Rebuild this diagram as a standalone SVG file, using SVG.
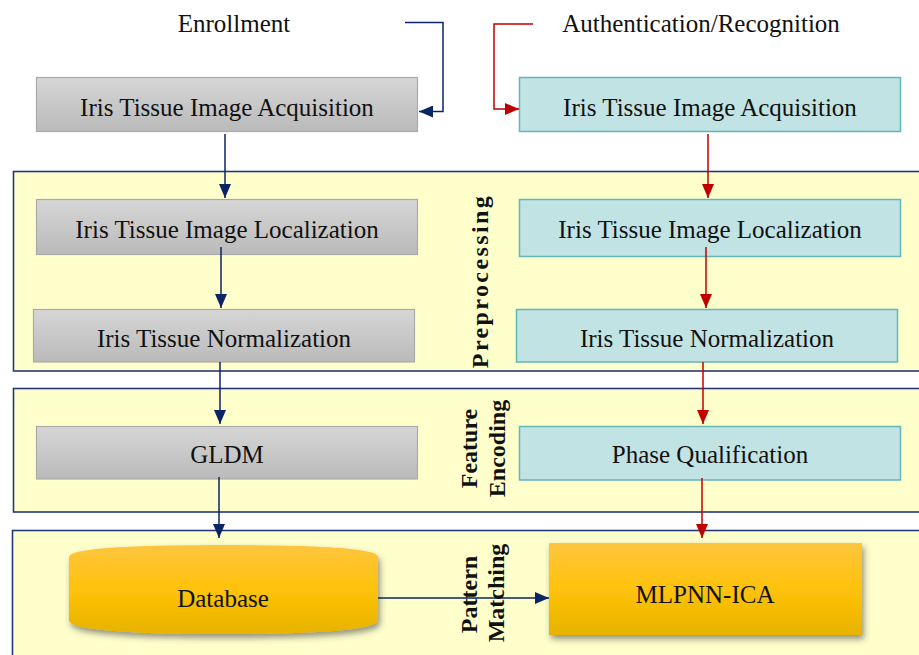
<svg xmlns="http://www.w3.org/2000/svg" width="919" height="655" viewBox="0 0 919 655">
  <defs>
    <linearGradient id="grayFill" x1="0" y1="0" x2="0" y2="1">
      <stop offset="0" stop-color="#d6d6d6"/>
      <stop offset="1" stop-color="#bababa"/>
    </linearGradient>
    <linearGradient id="goldFill" x1="0" y1="0" x2="0" y2="1">
      <stop offset="0" stop-color="#fdc540"/>
      <stop offset="0.5" stop-color="#ffc208"/>
      <stop offset="1" stop-color="#e7b300"/>
    </linearGradient>
    <filter id="shadow" x="-10%" y="-20%" width="125%" height="150%">
      <feDropShadow dx="2" dy="4" stdDeviation="3" flood-color="#3a3a3a" flood-opacity="0.55"/>
    </filter>
    <marker id="arrowNavy" viewBox="0 0 14 12" refX="14" refY="6" markerWidth="14" markerHeight="12" orient="auto" markerUnits="userSpaceOnUse">
      <path d="M0,0 L14,6 L0,12 z" fill="#0b2466"/>
    </marker>
    <marker id="arrowRed" viewBox="0 0 14 12" refX="14" refY="6" markerWidth="14" markerHeight="12" orient="auto" markerUnits="userSpaceOnUse">
      <path d="M0,0 L14,6 L0,12 z" fill="#c00000"/>
    </marker>
  </defs>
  <style>
    .panel { fill: #ffffcc; stroke: #23397a; stroke-width: 1.6; }
    .gray { fill: url(#grayFill); stroke: #aaaaaa; stroke-width: 1.2; }
    .teal { fill: #c1e3e3; stroke: #62b7b7; stroke-width: 1.5; }
    .gold { fill: url(#goldFill); filter: url(#shadow); }
    .label { font-family: "Liberation Serif", "Times New Roman", serif; font-size: 25px; fill: #111111; text-anchor: middle; }
    .stage { font-family: "Liberation Serif", "Times New Roman", serif; font-weight: bold; font-size: 24px; fill: #111111; text-anchor: middle; }
    .navy { fill: none; stroke: #0b2466; stroke-width: 1.5; marker-end: url(#arrowNavy); }
    .red { fill: none; stroke: #c00000; stroke-width: 1.5; marker-end: url(#arrowRed); }
  </style>

  <rect width="919" height="655" fill="#ffffff"/>

  <!-- stage panels -->
  <g id="panel-preprocessing">
    <rect class="panel" x="13.5" y="171.5" width="930" height="199.5"/>
    <text class="stage" transform="translate(488,281) rotate(-90)" font-size="23" letter-spacing="2.4">Preprocessing</text>
  </g>
  <g id="panel-feature-encoding">
    <rect class="panel" x="13.5" y="388.5" width="930" height="123.5"/>
    <text class="stage" transform="translate(477,448.5) rotate(-90)">Feature</text>
    <text class="stage" transform="translate(505,448.5) rotate(-90)">Encoding</text>
  </g>
  <g id="panel-pattern-matching">
    <rect class="panel" x="12.5" y="530.5" width="930" height="150"/>
  </g>

  <!-- headings -->
  <g id="heading-enrollment">
    <text class="label" x="234" y="32">Enrollment</text>
  </g>
  <g id="heading-authentication">
    <text class="label" x="701" y="32">Authentication/Recognition</text>
  </g>

  <!-- enrollment branch -->
  <g id="enroll-acquisition">
    <rect class="gray" x="36.5" y="77.5" width="381" height="54"/>
    <text class="label" x="227" y="116">Iris Tissue Image Acquisition</text>
  </g>
  <g id="enroll-localization">
    <rect class="gray" x="36.5" y="199.5" width="381" height="55"/>
    <text class="label" x="227" y="238">Iris Tissue Image Localization</text>
  </g>
  <g id="enroll-normalization">
    <rect class="gray" x="33.5" y="309.5" width="381" height="52.5"/>
    <text class="label" x="224" y="347">Iris Tissue Normalization</text>
  </g>
  <g id="enroll-gldm">
    <rect class="gray" x="36.5" y="426.5" width="381" height="52.5"/>
    <text class="label" x="227" y="463">GLDM</text>
  </g>
  <g id="database">
    <path class="gold" d="M69,557 Q69,545 223.5,545 Q378,545 378,557 L378,620 Q378,634 223.5,634 Q69,634 69,620 Z"/>
    <text class="label" x="223" y="607">Database</text>
  </g>

  <!-- authentication branch -->
  <g id="auth-acquisition">
    <rect class="teal" x="519.5" y="77.5" width="381" height="54"/>
    <text class="label" x="710" y="116">Iris Tissue Image Acquisition</text>
  </g>
  <g id="auth-localization">
    <rect class="teal" x="519.5" y="199.5" width="381" height="57"/>
    <text class="label" x="710" y="238">Iris Tissue Image Localization</text>
  </g>
  <g id="auth-normalization">
    <rect class="teal" x="516.5" y="309.5" width="381" height="52.5"/>
    <text class="label" x="707" y="347">Iris Tissue Normalization</text>
  </g>
  <g id="auth-phase">
    <rect class="teal" x="519.5" y="426.5" width="381" height="53.5"/>
    <text class="label" x="710" y="463">Phase Qualification</text>
  </g>
  <g id="mlpnn-ica">
    <rect class="gold" x="549" y="543" width="313" height="92"/>
    <text class="label" x="705" y="603">MLPNN-ICA</text>
  </g>

  <!-- connectors -->
  <g id="connectors">
    <path class="navy" d="M405,22.5 H443 V111.5 H419"/>
    <path class="red" d="M533,24 H494 V109 H519"/>
    <path class="navy" d="M225,134 V198"/>
    <path class="red" d="M708,134 V198"/>
    <path class="navy" d="M221,247 V308"/>
    <path class="red" d="M706,247 V308"/>
    <path class="navy" d="M220,362 V424"/>
    <path class="red" d="M703,362 V424"/>
    <path class="navy" d="M219,477 V538"/>
    <path class="red" d="M702,478 V538"/>
    <path class="navy" d="M378,598 H549"/>
  </g>

  <!-- stage label printed over the Database link -->
  <g id="label-pattern-matching">
    <text class="stage" transform="translate(477,594.5) rotate(-90)">Pattern</text>
    <text class="stage" transform="translate(504,593) rotate(-90)">Matching</text>
  </g>
</svg>
